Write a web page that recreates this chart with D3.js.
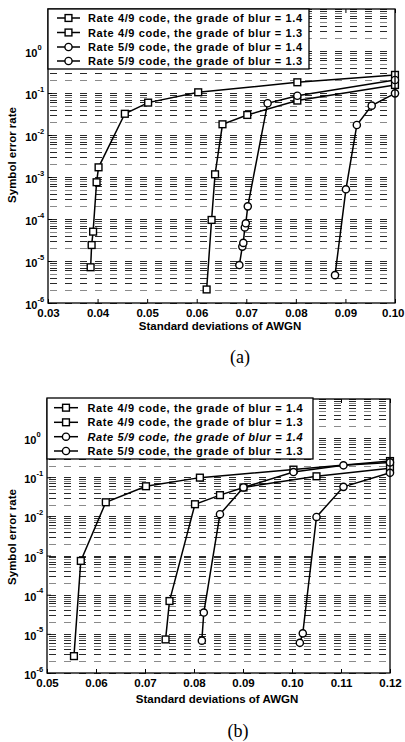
<!DOCTYPE html>
<html>
<head>
<meta charset="utf-8">
<script src="https://cdn.jsdelivr.net/npm/d3@7"></script>
<style>
  body { margin: 0; background: #fff; }
  svg { display: block; }
  text { font-family: "Liberation Sans", Arial, sans-serif; font-weight: bold; fill: #000; }
</style>
</head>
<body>
<svg id="chart" width="405" height="742"></svg>
<script>
// ---- data ----
const legendLabels = [
  "Rate 4/9 code, the grade of blur = 1.4",
  "Rate 4/9 code, the grade of blur = 1.3",
  "Rate 5/9 code, the grade of blur = 1.4",
  "Rate 5/9 code, the grade of blur = 1.3"
];
const seriesMarkers = ["square", "square", "circle", "circle"];
const yExponents = [0, -1, -2, -3, -4, -5, -6];
const xTicksA = [0.03, 0.04, 0.05, 0.06, 0.07, 0.08, 0.09, 0.10];
const xTicksB = [0.05, 0.06, 0.07, 0.08, 0.09, 0.10, 0.11, 0.12];
const xAxisTitle = "Standard deviations of AWGN";
const yAxisTitle = "Symbol error rate";

// panel (a)
const aRate49Blur14X = [0.0386, 0.0388, 0.0391, 0.0398, 0.0402, 0.0455, 0.0502, 0.0603, 0.0803, 0.1000];
const aRate49Blur14Y = [7.1e-6, 2.4e-5, 5.0e-5, 7.5e-4, 1.7e-3, 3.2e-2, 5.9e-2, 0.104, 0.18, 0.27];
const aRate49Blur13X = [0.0620, 0.0630, 0.0637, 0.0652, 0.0702, 0.0803, 0.1000];
const aRate49Blur13Y = [2.1e-6, 9.5e-5, 1.16e-3, 1.8e-2, 3.0e-2, 6.6e-2, 0.155];
const aRate59Blur14X = [0.0686, 0.0692, 0.0694, 0.0697, 0.0699, 0.0703, 0.0743, 0.0803, 0.1000];
const aRate59Blur14Y = [8.0e-6, 2.2e-5, 2.7e-5, 6.3e-5, 7.9e-5, 2.0e-4, 5.7e-2, 8.6e-2, 0.204];
const aRate59Blur13X = [0.0879, 0.0901, 0.0923, 0.0953, 0.1000];
const aRate59Blur13Y = [4.6e-6, 5.1e-4, 1.73e-2, 5.0e-2, 0.098];

// panel (b)
const bRate49Blur14X = [0.0555, 0.0569, 0.0620, 0.0702, 0.0812, 0.1003, 0.1200];
const bRate49Blur14Y = [2.7e-6, 7.3e-4, 2.3e-2, 5.9e-2, 0.098, 0.157, 0.26];
const bRate49Blur13X = [0.0742, 0.0750, 0.0802, 0.0853, 0.0901, 0.1050, 0.1200];
const bRate49Blur13Y = [7.2e-6, 6.9e-5, 2.05e-2, 3.5e-2, 5.5e-2, 0.106, 0.17];
const bRate59Blur14X = [0.0816, 0.0820, 0.0853, 0.0901, 0.1003, 0.1105, 0.1200];
const bRate59Blur14Y = [6.7e-6, 3.5e-5, 1.14e-2, 5.5e-2, 0.136, 0.202, 0.24];
const bRate59Blur13X = [0.1016, 0.1022, 0.1050, 0.1105, 0.1200];
const bRate59Blur13Y = [5.9e-6, 1.03e-5, 9.7e-3, 5.7e-2, 0.13];

// ---- layout of the two panels ----
const panels = [
  {
    caption: "(a)",
    left: 48, right: 395, top: 9, bottom: 303,
    xDomain: [0.03, 0.10], xTicks: xTicksA,
    series: [[aRate49Blur14X, aRate49Blur14Y], [aRate49Blur13X, aRate49Blur13Y],
             [aRate59Blur14X, aRate59Blur14Y], [aRate59Blur13X, aRate59Blur13Y]],
    legend: { x: 48, y: 9, w: 261, h: 60, rows: [18, 32.5, 47, 61], lineX: [57, 80], textX: 88, textW: 214 },
    italicRow: -1,
    xTitleX: 220, xTitleY: 330, yTitleY: 155, captionX: 240, captionY: 363
  },
  {
    caption: "(b)",
    left: 47, right: 390, top: 399, bottom: 673,
    xDomain: [0.05, 0.12], xTicks: xTicksB,
    series: [[bRate49Blur14X, bRate49Blur14Y], [bRate49Blur13X, bRate49Blur13Y],
             [bRate59Blur14X, bRate59Blur14Y], [bRate59Blur13X, bRate59Blur13Y]],
    legend: { x: 47, y: 398, w: 266, h: 61, rows: [407.7, 422.3, 436.7, 451], lineX: [54, 78], textX: 87.5, textW: 215 },
    italicRow: 2,
    xTitleX: 217, xTitleY: 703, yTitleY: 537, captionX: 238, captionY: 737
  }
];

const svg = d3.select("#chart");
const svgWidth = +svg.attr("width");

function drawMarker(g, type, cx, cy) {
  if (type === "square") {
    g.append("rect")
      .attr("x", cx - 3.4).attr("y", cy - 3.4)
      .attr("width", 6.8).attr("height", 6.8)
      .attr("fill", "#fff").attr("stroke", "#000").attr("stroke-width", 1.4);
  } else {
    g.append("circle")
      .attr("cx", cx).attr("cy", cy).attr("r", 3.6)
      .attr("fill", "#fff").attr("stroke", "#000").attr("stroke-width", 1.4);
  }
}

panels.forEach(p => {
  const x = d3.scaleLinear().domain(p.xDomain).range([p.left, p.right]);
  const y = d3.scaleLog().domain([1e-6, 10]).range([p.bottom, p.top]);
  const g = svg.append("g");

  // dashed horizontal grid at every decade and its sub-divisions
  const gridVals = [];
  for (let e = -6; e <= 0; e++) {
    for (let m = 1; m <= 9; m++) gridVals.push(m * Math.pow(10, e));
  }
  gridVals.push(10);
  g.append("g").selectAll("line").data(gridVals).join("line")
    .attr("x1", p.left + 2).attr("x2", p.right)
    .attr("y1", d => Math.round(y(d)) + 0.5).attr("y2", d => Math.round(y(d)) + 0.5)
    .attr("stroke", (d, i) => (i % 3 === 1 ? "#8a8a8a" : "#2a2a2a"))
    .attr("stroke-width", 1)
    .attr("stroke-dasharray", "7,8");

  // curves and markers
  p.series.forEach((s, i) => {
    const pts = s[0].map((xv, k) => [xv, s[1][k]]);
    g.append("path")
      .datum(pts)
      .attr("fill", "none").attr("stroke", "#000").attr("stroke-width", 1.5)
      .attr("d", d3.line().x(d => x(d[0])).y(d => y(d[1])));
    const mg = g.append("g");
    pts.forEach(d => drawMarker(mg, seriesMarkers[i], x(d[0]), y(d[1])));
  });

  // frame
  g.append("rect")
    .attr("x", p.left).attr("y", p.top)
    .attr("width", p.right - p.left).attr("height", p.bottom - p.top)
    .attr("fill", "none").attr("stroke", "#000").attr("stroke-width", 1.3);

  // x axis ticks and labels
  const xAxis = d3.axisBottom(x).tickValues(p.xTicks).tickSize(-4).tickPadding(6)
    .tickFormat(d3.format(".2f"));
  const xa = g.append("g").attr("transform", `translate(0,${p.bottom})`).call(xAxis);
  xa.select(".domain").remove();
  xa.selectAll("line").attr("stroke", "#000").attr("stroke-width", 1);
  xa.selectAll("text").attr("font-size", 11.5).attr("font-family", "Liberation Sans, Arial, sans-serif")
    .attr("font-weight", "bold").attr("fill", "#000");
  // keep the last label inside the page
  xa.selectAll("text").each(function (d) {
    const w = this.getComputedTextLength();
    const overflow = x(d) + w / 2 - (svgWidth - 1);
    if (overflow > 0) d3.select(this).attr("dx", -overflow);
  });
  const xaTop = g.append("g").attr("transform", `translate(0,${p.top})`)
    .call(d3.axisTop(x).tickValues(p.xTicks).tickSize(-4).tickFormat(""));
  xaTop.select(".domain").remove();

  // y axis decade labels: 10 with superscript exponent
  const ya = g.append("g").attr("transform", `translate(${p.left},0)`)
    .call(d3.axisLeft(y).tickValues(yExponents.map(e => Math.pow(10, e))).tickSize(-4).tickFormat(""));
  ya.select(".domain").remove();
  const yl = g.append("g");
  yExponents.forEach(e => {
    const ty = y(Math.pow(10, e));
    yl.append("text").attr("x", p.left - 10.5).attr("y", ty + 6)
      .attr("text-anchor", "end").attr("font-size", 11).text("10");
    yl.append("text").attr("x", p.left - 10.5).attr("y", ty - 1.5)
      .attr("text-anchor", "start").attr("font-size", 7.5).text(String(e));
  });

  // axis titles
  g.append("text").attr("x", p.xTitleX).attr("y", p.xTitleY)
    .attr("text-anchor", "middle").attr("font-size", 11.5).text(xAxisTitle);
  g.append("text")
    .attr("transform", `translate(16,${p.yTitleY}) rotate(-90)`)
    .attr("text-anchor", "middle").attr("font-size", 11.5).text(yAxisTitle);

  // legend
  const L = p.legend;
  const lg = g.append("g");
  lg.append("rect").attr("x", L.x).attr("y", L.y).attr("width", L.w).attr("height", L.h)
    .attr("fill", "#fff").attr("stroke", "#000").attr("stroke-width", 1.3);
  legendLabels.forEach((lab, i) => {
    const ry = L.rows[i];
    lg.append("line").attr("x1", L.lineX[0]).attr("x2", L.lineX[1])
      .attr("y1", ry).attr("y2", ry).attr("stroke", "#000").attr("stroke-width", 1.5);
    drawMarker(lg, seriesMarkers[i], (L.lineX[0] + L.lineX[1]) / 2, ry);
    lg.append("text").attr("x", L.textX).attr("y", ry + 4)
      .attr("font-size", 11)
      .attr("font-style", i === p.italicRow ? "italic" : "normal")
      .attr("textLength", L.textW).attr("lengthAdjust", "spacing")
      .text(lab);
  });

  // caption
  g.append("text").attr("x", p.captionX).attr("y", p.captionY)
    .attr("text-anchor", "middle")
    .style("font-family", "'Liberation Serif', 'Times New Roman', serif")
    .style("font-weight", "normal")
    .attr("font-size", 18).text(p.caption);
});
</script>
</body>
</html>
